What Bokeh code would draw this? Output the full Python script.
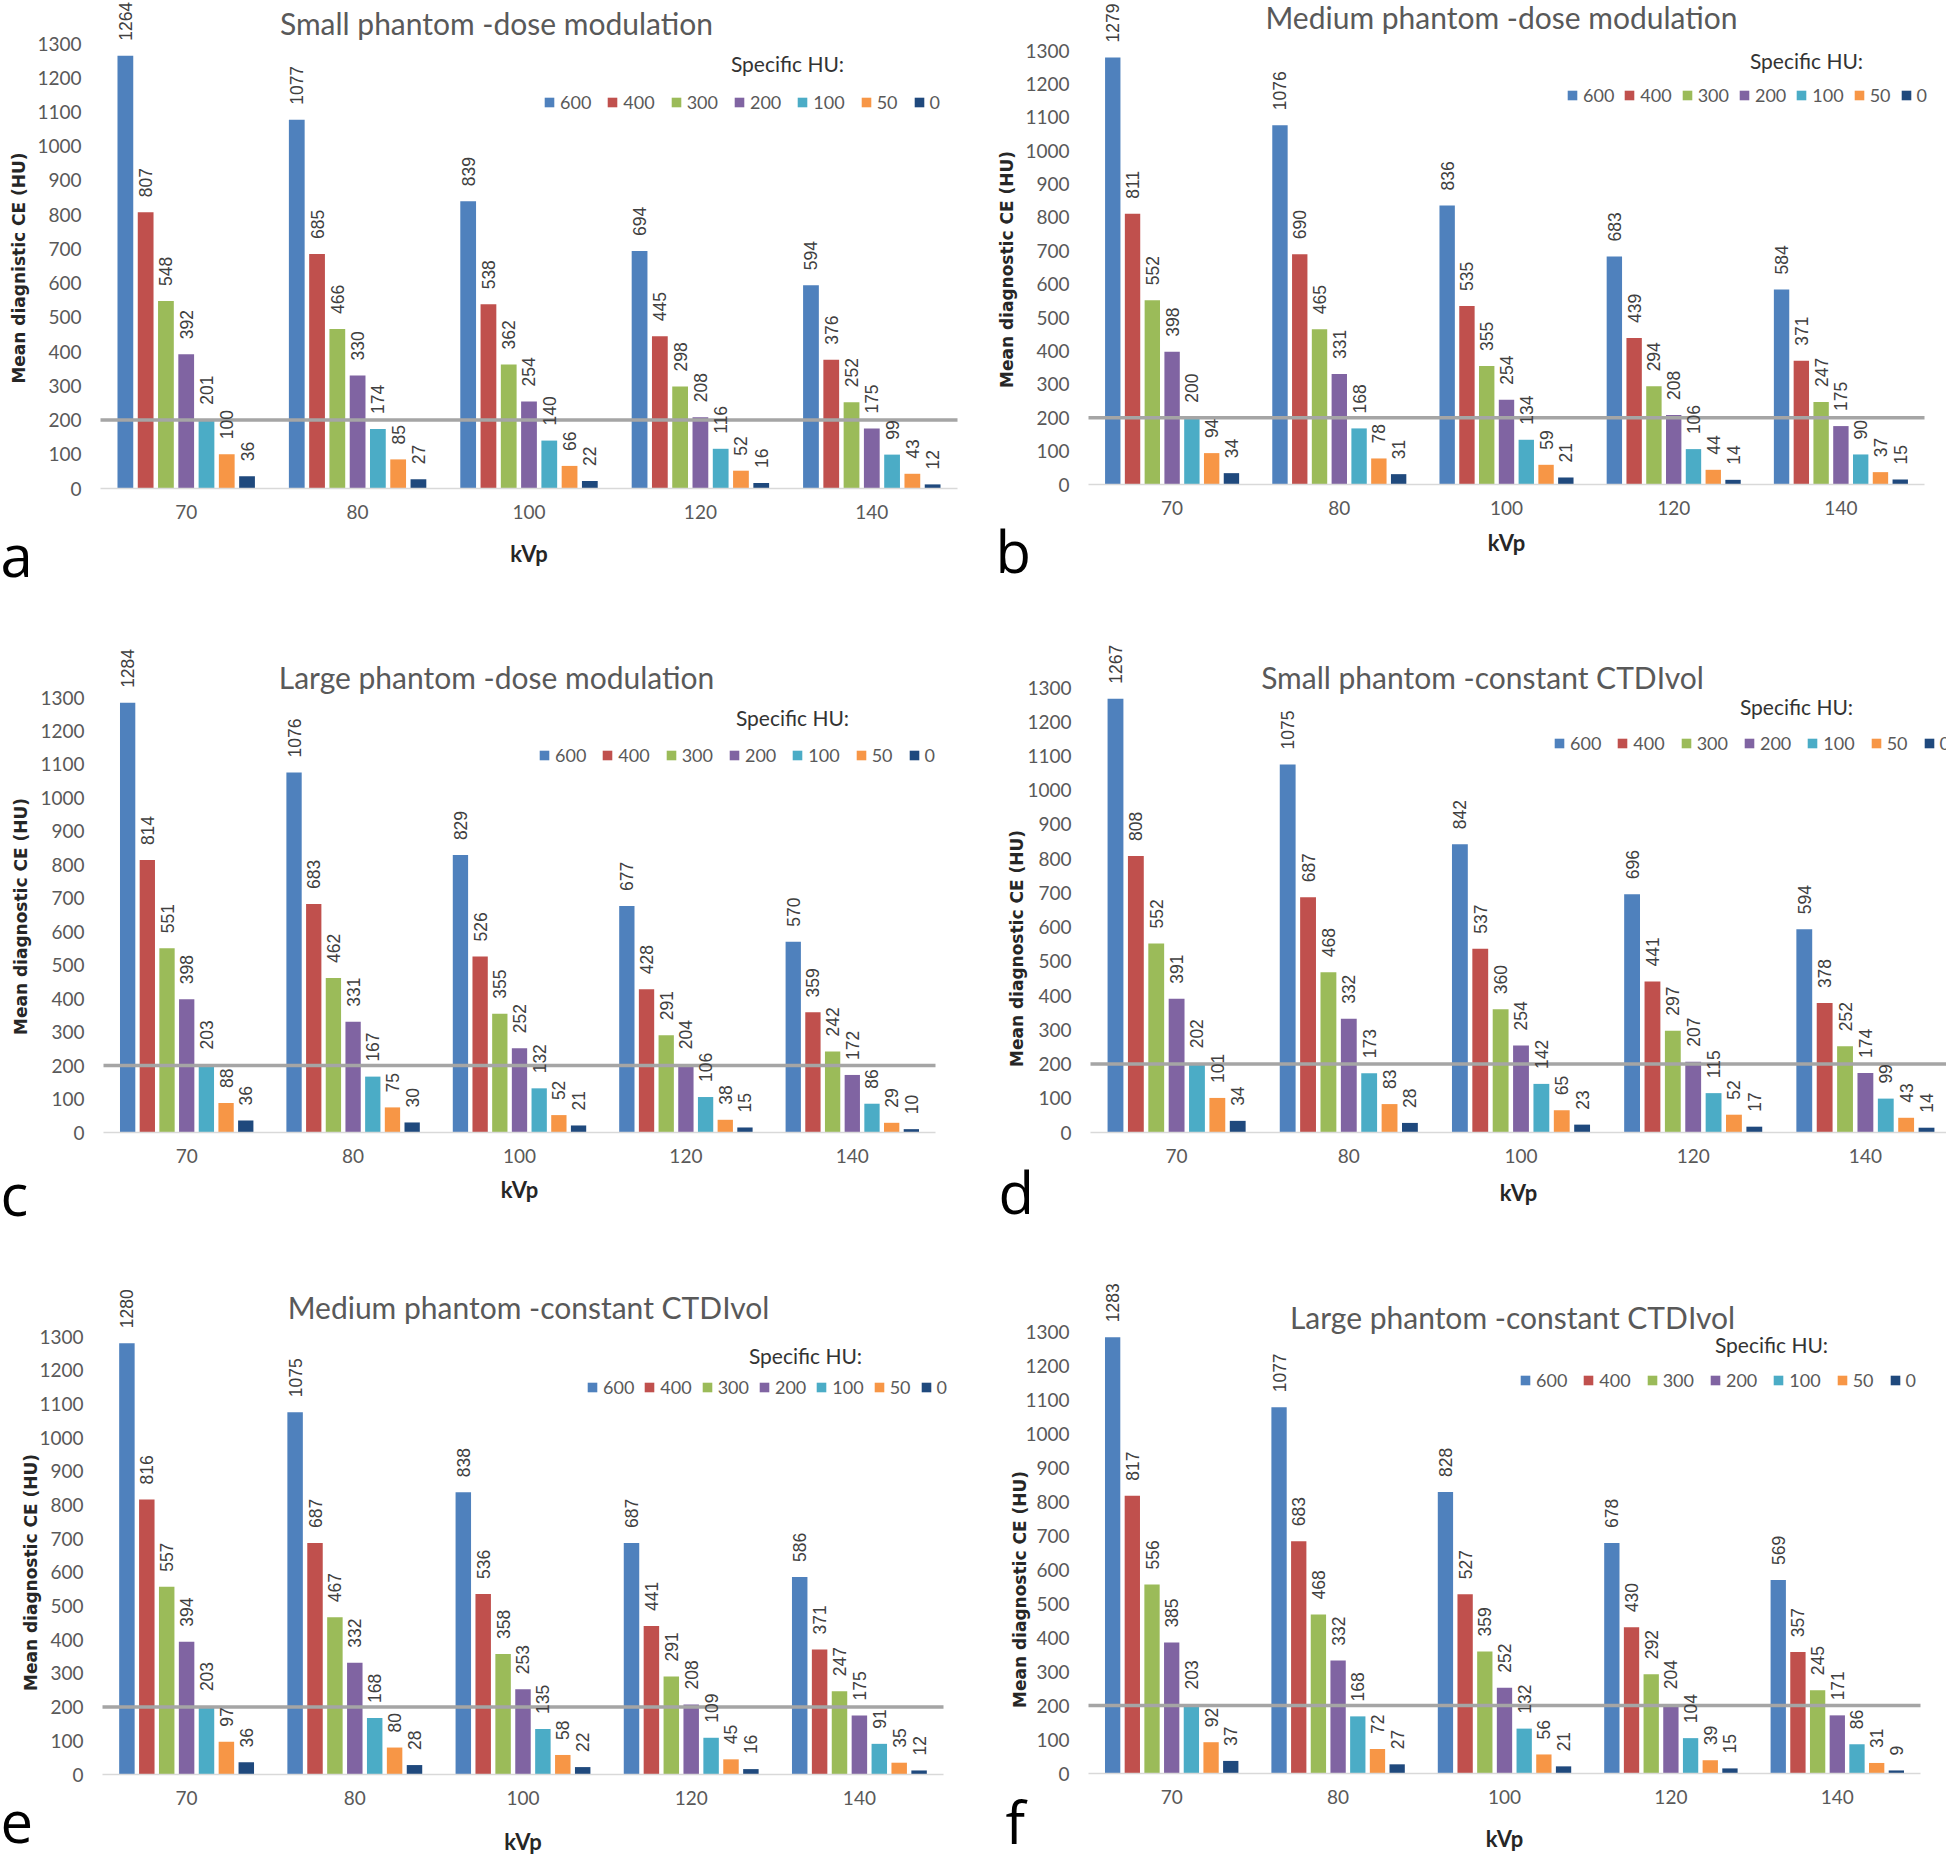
import math
from bokeh.plotting import figure
from bokeh.models import (ColumnDataSource, LabelSet, Label, Legend, LegendItem,
                          FixedTicker, Range1d)
from bokeh.layouts import column, row
from bokeh.core.properties import value
from bokeh.embed import file_html
from bokeh.resources import INLINE

# ---------------- data ----------------
KVP = ["70", "80", "100", "120", "140"]
HU_LEVELS = ["600", "400", "300", "200", "100", "50", "0"]
HU_COLORS = ["#4F81BD", "#C0504D", "#9BBB59", "#8064A2", "#4BACC6", "#F79646", "#1F497D"]

# each row = one specific-HU series (600, 400, 300, 200, 100, 50, 0) over KVP
SMALL_DOSE_MOD = [
    [1264, 1077, 839, 694, 594],
    [807, 685, 538, 445, 376],
    [548, 466, 362, 298, 252],
    [392, 330, 254, 208, 175],
    [201, 174, 140, 116, 99],
    [100, 85, 66, 52, 43],
    [36, 27, 22, 16, 12],
]
MEDIUM_DOSE_MOD = [
    [1279, 1076, 836, 683, 584],
    [811, 690, 535, 439, 371],
    [552, 465, 355, 294, 247],
    [398, 331, 254, 208, 175],
    [200, 168, 134, 106, 90],
    [94, 78, 59, 44, 37],
    [34, 31, 21, 14, 15],
]
LARGE_DOSE_MOD = [
    [1284, 1076, 829, 677, 570],
    [814, 683, 526, 428, 359],
    [551, 462, 355, 291, 242],
    [398, 331, 252, 204, 172],
    [203, 167, 132, 106, 86],
    [88, 75, 52, 38, 29],
    [36, 30, 21, 15, 10],
]
SMALL_CONST = [
    [1267, 1075, 842, 696, 594],
    [808, 687, 537, 441, 378],
    [552, 468, 360, 297, 252],
    [391, 332, 254, 207, 174],
    [202, 173, 142, 115, 99],
    [101, 83, 65, 52, 43],
    [34, 28, 23, 17, 14],
]
MEDIUM_CONST = [
    [1280, 1075, 838, 687, 586],
    [816, 687, 536, 441, 371],
    [557, 467, 358, 291, 247],
    [394, 332, 253, 208, 175],
    [203, 168, 135, 109, 91],
    [97, 80, 58, 45, 35],
    [36, 28, 22, 16, 12],
]
LARGE_CONST = [
    [1283, 1077, 828, 678, 569],
    [817, 683, 527, 430, 357],
    [556, 468, 359, 292, 245],
    [385, 332, 252, 204, 171],
    [203, 168, 132, 104, 86],
    [92, 72, 56, 39, 31],
    [37, 27, 21, 15, 9],
]

TITLES = ["Small phantom -dose modulation", "Medium phantom -dose modulation",
          "Large phantom -dose modulation", "Small phantom -constant CTDIvol",
          "Medium phantom -constant CTDIvol", "Large phantom -constant CTDIvol"]
YLABELS = ["Mean diagnistic CE (HU)"] + ["Mean diagnostic CE (HU)"] * 5
LETTERS = ["a", "b", "c", "d", "e", "f"]
DATASETS = [SMALL_DOSE_MOD, MEDIUM_DOSE_MOD, LARGE_DOSE_MOD,
            SMALL_CONST, MEDIUM_CONST, LARGE_CONST]
THRESHOLD = 200
Y_MAX = 1300

# ---------------- layout (page pixel positions) ----------------
# frame = (x of category-axis start, x of category-axis end, y of 1300, y of 0)
LAYOUT = [
    dict(cell=(0, 0, 973, 620), frame=(100, 957, 43, 488),
         title=(496, 22), ltitle=(787, 63), leg=(543, 102, 15), ytitle=(18.5, 267.5),
         letter=(0, 554), kvp_st=18),
    dict(cell=(973, 0, 973, 620), frame=(1088, 1924, 50, 484),
         title=(1501, 16), ltitle=(1806, 60), leg=(1566, 95, 9), ytitle=(1006, 269),
         letter=(995, 550), kvp_st=11),
    dict(cell=(0, 620, 973, 620), frame=(103, 935, 697, 1132),
         title=(496, 676), ltitle=(792, 717), leg=(538, 755, 15), ytitle=(20, 916),
         letter=(0, 1193), kvp_st=10),
    dict(cell=(973, 620, 973, 620), frame=(1090, 1951, 687, 1132),
         title=(1482, 676), ltitle=(1796, 706), leg=(1553, 743, 15), ytitle=(1016.5, 948),
         letter=(998, 1191), kvp_st=13),
    dict(cell=(0, 1240, 973, 621), frame=(102, 943, 1336, 1774),
         title=(528, 1306), ltitle=(805, 1355), leg=(586, 1387, 9), ytitle=(30, 1572),
         letter=(0, 1821), kvp_st=20),
    dict(cell=(973, 1240, 973, 621), frame=(1088, 1920, 1331, 1773),
         title=(1512, 1316), ltitle=(1771, 1344), leg=(1519, 1380, 15), ytitle=(1019, 1589),
         letter=(1005, 1821), kvp_st=18),
]

BAR_PITCH = 0.1183
BAR_WIDTH = 0.092
TEXT_FONT = "Lato"
GREY = "#595959"


def make_panel(data, title, ylabel, letter, lay):
    cx0, cy0, W, H = lay["cell"]
    L, R, T, B = lay["frame"]
    ncat = len(KVP)
    pxx = (R - L) / ncat
    pxy = (B - T) / Y_MAX
    x_rng = Range1d(-0.5 - (L - cx0) / pxx, -0.5 + (cx0 + W - L) / pxx)
    y_rng = Range1d(-(cy0 + H - B) / pxy, Y_MAX + (T - cy0) / pxy)
    p = figure(width=W, height=H, output_backend="svg", toolbar_location=None,
               title=None, x_range=x_rng, y_range=y_rng, min_border=0)
    p.outline_line_color = None
    p.xgrid.visible = False
    p.ygrid.visible = False

    def sx(X):
        return X - cx0

    def sy(Y):
        return cy0 + H - Y

    renderers = []
    for j, (hu, color) in enumerate(zip(HU_LEVELS, HU_COLORS)):
        vals = data[j]
        src = ColumnDataSource(dict(
            x=[i + (j - 3) * BAR_PITCH for i in range(ncat)],
            top=vals,
            label=[str(v) for v in vals],
        ))
        r = p.vbar(x="x", top="top", bottom=0, width=BAR_WIDTH, source=src,
                   fill_color=color, line_color=None)
        renderers.append(r)
        p.add_layout(LabelSet(x="x", y="top", text="label", source=src,
                              angle=math.pi / 2, text_align="left", text_baseline="middle",
                              y_offset=15, text_font=value("Liberation Sans"),
                              text_font_size=value("17.5px"), text_color="#404040"))

    # threshold reference line across the category extent
    p.line(x=[-0.5, ncat - 0.5], y=[THRESHOLD, THRESHOLD],
           line_color="#a5a5a5", line_width=3.5)

    # x axis
    xa = p.xaxis[0]
    xa.fixed_location = 0
    xa.bounds = (-0.5, ncat - 0.5)
    xa.ticker = FixedTicker(ticks=list(range(ncat)))
    xa.major_label_overrides = {i: k for i, k in enumerate(KVP)}
    xa.major_tick_out = 0
    xa.major_tick_in = 0
    xa.minor_tick_out = 0
    xa.minor_tick_in = 0
    xa.axis_line_color = "#d9d9d9"
    xa.axis_line_width = 1.5
    xa.major_label_standoff = 16
    xa.major_label_text_font = TEXT_FONT
    xa.major_label_text_font_size = "19px"
    xa.major_label_text_color = GREY
    xa.axis_label = "kVp"
    xa.axis_label_text_font = TEXT_FONT
    xa.axis_label_text_font_size = "22px"
    xa.axis_label_text_font_style = "bold"
    xa.axis_label_text_color = "#262626"
    xa.axis_label_standoff = lay["kvp_st"]

    # y axis
    ya = p.yaxis[0]
    ya.fixed_location = -0.5
    ya.bounds = (0, Y_MAX)
    ya.ticker = FixedTicker(ticks=list(range(0, Y_MAX + 1, 100)))
    ya.axis_line_color = None
    ya.major_tick_out = 0
    ya.major_tick_in = 0
    ya.minor_tick_out = 0
    ya.minor_tick_in = 0
    ya.major_label_standoff = 19
    ya.major_label_text_font = TEXT_FONT
    ya.major_label_text_font_size = "19px"
    ya.major_label_text_color = GREY

    # y axis title
    yx, yy = lay["ytitle"]
    p.add_layout(Label(x=sx(yx), y=sy(yy), x_units="screen", y_units="screen",
                       text=ylabel, angle=90, angle_units="deg",
                       text_align="center", text_baseline="middle",
                       text_font="DejaVu Sans", text_font_style="bold",
                       text_font_size="17px", text_color="#262626"))

    # chart title
    tx, ty = lay["title"]
    p.add_layout(Label(x=sx(tx), y=sy(ty), x_units="screen", y_units="screen",
                       text=title, text_align="center", text_baseline="middle",
                       text_font=TEXT_FONT, text_font_size="30px", text_color=GREY))

    # legend title
    lx, ly = lay["ltitle"]
    p.add_layout(Label(x=sx(lx), y=sy(ly), x_units="screen", y_units="screen",
                       text="Specific HU:", text_align="center", text_baseline="middle",
                       text_font=TEXT_FONT, text_font_size="21px", text_color="#333333"))

    # legend
    mx, my, spacing = lay["leg"]
    items = [LegendItem(label=value(hu), renderers=[r]) for hu, r in zip(HU_LEVELS, renderers)]
    legend = Legend(items=items, orientation="horizontal",
                    location=(sx(mx), sy(my) - 11),
                    glyph_width=12, glyph_height=12, label_standoff=5,
                    spacing=spacing, padding=0, margin=0,
                    label_height=22, label_width=0,
                    border_line_color=None, background_fill_alpha=0,
                    label_text_font=TEXT_FONT, label_text_font_size="18px",
                    label_text_color=GREY)
    p.add_layout(legend)

    # panel letter
    ax, ay = lay["letter"]
    p.add_layout(Label(x=sx(ax), y=sy(ay), x_units="screen", y_units="screen",
                       text=letter, text_align="left", text_baseline="middle",
                       text_font="Open Sans", text_font_size="58px", text_color="black"))
    return p


figs = [make_panel(d, t, yl, lt, lay)
        for d, t, yl, lt, lay in zip(DATASETS, TITLES, YLABELS, LETTERS, LAYOUT)]

page = column(row(figs[0], figs[1]), row(figs[2], figs[3]), row(figs[4], figs[5]))

open("out.html", "w").write(file_html(page, INLINE))
